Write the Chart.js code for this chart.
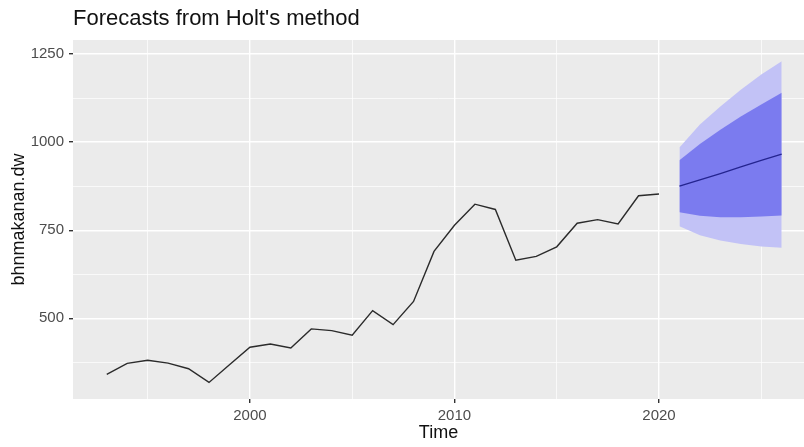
<!DOCTYPE html>
<html>
<head>
<meta charset="utf-8">
<script src="https://cdn.jsdelivr.net/npm/chart.js@4/dist/chart.umd.min.js"></script>
<style>
  html, body { margin: 0; padding: 0; background: #ffffff; }
  #wrap { width: 804px; height: 447px; position: relative; }
</style>
</head>
<body>
<div id="wrap"><canvas id="chart"></canvas></div>
<script>
// Observed annual series
const histYears = [1993, 1994, 1995, 1996, 1997, 1998, 1999, 2000, 2001, 2002,
                   2003, 2004, 2005, 2006, 2007, 2008, 2009, 2010, 2011, 2012,
                   2013, 2014, 2015, 2016, 2017, 2018, 2019, 2020];
const histValues = [341, 372, 381, 373, 357, 318, 368, 418, 427, 416,
                    470, 465, 452, 522, 482, 548, 690, 764, 824, 809,
                    665, 676, 703, 770, 780, 768, 848, 853];

// Holt forecast with 80% and 95% prediction intervals
const fcYears = [2021, 2022, 2023, 2024, 2025, 2026];
const fcMean  = [875, 893, 911, 930, 948, 966];
const fcLo80  = [801, 791, 787, 787, 789, 792];
const fcHi80  = [949, 995, 1035, 1073, 1107, 1140];
const fcLo95  = [761, 736, 721, 711, 704, 700];
const fcHi95  = [985, 1050, 1101, 1149, 1192, 1230];

// Axis ticks and grid
const xMajorTicks = [2000, 2010, 2020];
const xMinorTicks = [1995, 2005, 2015, 2025];
const yMajorTicks = [500, 750, 1000, 1250];
const yMinorTicks = [375, 625, 875, 1125];

const pts = (xs, ys) => xs.map((x, i) => ({ x: x, y: ys[i] }));

const panelBg = {
  id: 'panelBg',
  beforeDraw(chart) {
    const { ctx, chartArea: a } = chart;
    ctx.save();
    ctx.fillStyle = '#ebebeb';
    ctx.fillRect(a.left, a.top, a.right - a.left, a.bottom - a.top);
    ctx.restore();
  }
};

const FONT = '"Liberation Sans", Arial, Helvetica, sans-serif';

const gridOpts = (majors) => ({
  color: '#ffffff',
  lineWidth: (c) => (c.tick && majors.includes(c.tick.value)) ? 1.4 : 0.7,
  tickColor: (c) => (c.tick && majors.includes(c.tick.value)) ? '#333333' : 'rgba(0,0,0,0)',
  tickLength: 4,
  drawTicks: true
});

new Chart(document.getElementById('chart'), {
  type: 'line',
  data: {
    datasets: [
      { label: 'Point forecast', data: pts(fcYears, fcMean), borderColor: '#24248f',
        borderWidth: 1.3, pointRadius: 0, fill: false, tension: 0 },
      { label: 'Observed', data: pts(histYears, histValues), borderColor: '#2b2b2b',
        borderWidth: 1.4, pointRadius: 0, fill: false, tension: 0 },
      { label: 'Hi 80', data: pts(fcYears, fcHi80), borderWidth: 0, borderColor: 'rgba(0,0,0,0)',
        pointRadius: 0, fill: '+1', backgroundColor: '#7b7bef' },
      { label: 'Lo 80', data: pts(fcYears, fcLo80), borderWidth: 0, borderColor: 'rgba(0,0,0,0)',
        pointRadius: 0, fill: false },
      { label: 'Hi 95', data: pts(fcYears, fcHi95), borderWidth: 0, borderColor: 'rgba(0,0,0,0)',
        pointRadius: 0, fill: '+1', backgroundColor: '#c2c2f6' },
      { label: 'Lo 95', data: pts(fcYears, fcLo95), borderWidth: 0, borderColor: 'rgba(0,0,0,0)',
        pointRadius: 0, fill: false }
    ]
  },
  options: {
    responsive: true,
    maintainAspectRatio: false,
    animation: false,
    layout: { padding: 0 },
    plugins: {
      legend: { display: false },
      tooltip: { enabled: false },
      title: {
        display: true,
        text: "Forecasts from Holt's method",
        align: 'start',
        fullSize: false,
        color: '#111111',
        font: { family: FONT, size: 22, weight: 'normal' },
        padding: { top: 6, bottom: 7.6 }
      }
    },
    scales: {
      x: {
        type: 'linear',
        min: 1991.35,
        max: 2027.09,
        afterBuildTicks: (s) => { s.ticks = xMajorTicks.concat(xMinorTicks).sort((a, b) => a - b).map(v => ({ value: v })); },
        afterFit: (s) => { s.height = 48; },
        ticks: {
          autoSkip: false, maxRotation: 0, padding: 4,
          color: '#4d4d4d', font: { family: FONT, size: 15 },
          callback: (v) => xMajorTicks.includes(v) ? String(v) : ''
        },
        grid: gridOpts(xMajorTicks),
        border: { display: false },
        title: {
          display: true, text: 'Time', color: '#111111',
          font: { family: FONT, size: 18 }, padding: { top: 0, bottom: 3 }
        }
      },
      y: {
        type: 'linear',
        min: 271,
        max: 1290,
        afterBuildTicks: (s) => { s.ticks = yMajorTicks.concat(yMinorTicks).sort((a, b) => a - b).map(v => ({ value: v })); },
        afterFit: (s) => { s.width = 73; },
        ticks: {
          autoSkip: false, padding: 5,
          color: '#4d4d4d', font: { family: FONT, size: 15 },
          callback: (v) => yMajorTicks.includes(v) ? String(v) : ''
        },
        grid: gridOpts(yMajorTicks),
        border: { display: false },
        title: {
          display: true, text: 'bhnmakanan.dw', color: '#111111',
          font: { family: FONT, size: 18 }, padding: { top: 8, bottom: 0 }
        }
      }
    }
  },
  plugins: [panelBg]
});
</script>
</body>
</html>
